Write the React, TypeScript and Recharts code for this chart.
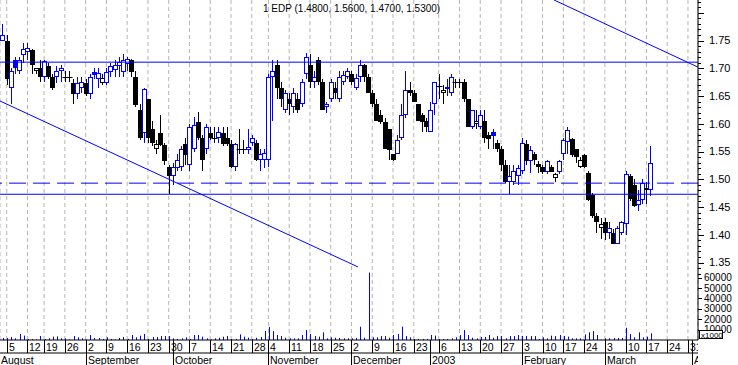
import React from 'react';
import { ComposedChart, Bar, XAxis, YAxis, ReferenceLine, CartesianGrid } from 'recharts';

const title = '1 EDP (1.4800, 1.5600, 1.4700, 1.5300)';

// trading days: index 0 = Fri 2 Aug 2002 ... index 156 = Tue 18 Mar 2003
const opens = [
  1.75, 1.75, 1.665, 1.715, 1.695, 1.724, 1.73, 1.733, 1.695, 1.70,
  1.684, 1.704, 1.685, 1.684, 1.695, 1.685, 1.685, 1.674, 1.654, 1.664,
  1.674, 1.654, 1.694, 1.68, 1.674, 1.674, 1.694, 1.696, 1.704, 1.694,
  1.708, 1.714, 1.684, 1.624, 1.584, 1.644, 1.59, 1.555, 1.583, 1.562,
  1.523, 1.505, 1.52, 1.523, 1.563, 1.525, 1.555, 1.604, 1.575, 1.554,
  1.584, 1.575, 1.575, 1.584, 1.574, 1.563, 1.523, 1.555, 1.555, 1.553,
  1.565, 1.565, 1.535, 1.535, 1.535, 1.685, 1.705, 1.665, 1.625, 1.645,
  1.63, 1.645, 1.635, 1.69, 1.705, 1.675, 1.715, 1.675, 1.63, 1.645,
  1.665, 1.645, 1.675, 1.685, 1.69, 1.665, 1.685, 1.705, 1.685, 1.655,
  1.635, 1.615, 1.603, 1.59, 1.545, 1.545, 1.575, 1.615, 1.66, 1.655,
  1.635, 1.615, 1.605, 1.585, 1.635, 1.668, 1.655, 1.662, 1.655, 1.675,
  1.675, 1.675, 1.645, 1.595, 1.60, 1.595, 1.605, 1.58, 1.585, 1.565,
  1.555, 1.525, 1.495, 1.495, 1.505, 1.515, 1.563, 1.533, 1.545, 1.528,
  1.523, 1.513, 1.523, 1.503, 1.513, 1.545, 1.568, 1.572, 1.555, 1.523,
  1.543, 1.512, 1.472, 1.433, 1.413, 1.423, 1.403, 1.403, 1.384, 1.403,
  1.42, 1.505, 1.49, 1.453, 1.463, 1.485, 1.48,
];
const highs = [
  1.78, 1.76, 1.70, 1.72, 1.72, 1.745, 1.745, 1.735, 1.70, 1.715,
  1.715, 1.71, 1.69, 1.704, 1.705, 1.695, 1.695, 1.68, 1.685, 1.685,
  1.68, 1.69, 1.70, 1.70, 1.69, 1.70, 1.71, 1.715, 1.72, 1.725,
  1.72, 1.716, 1.695, 1.635, 1.665, 1.645, 1.605, 1.57, 1.615, 1.565,
  1.525, 1.53, 1.545, 1.56, 1.574, 1.60, 1.613, 1.622, 1.58, 1.60,
  1.595, 1.595, 1.595, 1.595, 1.595, 1.57, 1.565, 1.59, 1.57, 1.59,
  1.58, 1.57, 1.554, 1.554, 1.69, 1.714, 1.715, 1.675, 1.66, 1.655,
  1.665, 1.655, 1.68, 1.728, 1.725, 1.695, 1.72, 1.68, 1.64, 1.68,
  1.675, 1.695, 1.695, 1.70, 1.695, 1.69, 1.715, 1.708, 1.69, 1.66,
  1.645, 1.625, 1.61, 1.59, 1.545, 1.58, 1.635, 1.695, 1.675, 1.66,
  1.635, 1.62, 1.61, 1.64, 1.675, 1.69, 1.67, 1.68, 1.69, 1.68,
  1.68, 1.68, 1.645, 1.625, 1.625, 1.625, 1.625, 1.585, 1.59, 1.57,
  1.56, 1.535, 1.525, 1.525, 1.525, 1.575, 1.57, 1.56, 1.55, 1.533,
  1.525, 1.535, 1.525, 1.512, 1.535, 1.575, 1.595, 1.575, 1.555, 1.54,
  1.545, 1.515, 1.475, 1.44, 1.43, 1.43, 1.423, 1.41, 1.415, 1.425,
  1.515, 1.51, 1.50, 1.48, 1.50, 1.495, 1.56,
];
const lows = [
  1.75, 1.67, 1.635, 1.69, 1.69, 1.71, 1.715, 1.69, 1.69, 1.675,
  1.675, 1.68, 1.66, 1.674, 1.675, 1.675, 1.675, 1.635, 1.645, 1.655,
  1.65, 1.645, 1.68, 1.665, 1.67, 1.67, 1.685, 1.685, 1.685, 1.685,
  1.695, 1.685, 1.63, 1.57, 1.565, 1.565, 1.56, 1.545, 1.56, 1.525,
  1.473, 1.49, 1.514, 1.514, 1.526, 1.514, 1.55, 1.57, 1.514, 1.545,
  1.57, 1.565, 1.565, 1.56, 1.56, 1.52, 1.514, 1.545, 1.545, 1.545,
  1.56, 1.533, 1.514, 1.52, 1.523, 1.605, 1.645, 1.63, 1.62, 1.615,
  1.62, 1.62, 1.63, 1.68, 1.665, 1.665, 1.67, 1.625, 1.62, 1.64,
  1.645, 1.64, 1.67, 1.68, 1.67, 1.66, 1.675, 1.675, 1.655, 1.63,
  1.605, 1.60, 1.555, 1.535, 1.533, 1.545, 1.57, 1.61, 1.65, 1.64,
  1.605, 1.585, 1.585, 1.585, 1.615, 1.645, 1.635, 1.65, 1.65, 1.665,
  1.665, 1.64, 1.595, 1.59, 1.59, 1.59, 1.565, 1.555, 1.555, 1.55,
  1.515, 1.493, 1.473, 1.49, 1.49, 1.51, 1.525, 1.512, 1.525, 1.512,
  1.51, 1.51, 1.513, 1.495, 1.51, 1.535, 1.545, 1.54, 1.53, 1.52,
  1.52, 1.46, 1.43, 1.403, 1.393, 1.39, 1.393, 1.383, 1.383, 1.40,
  1.40, 1.46, 1.45, 1.443, 1.455, 1.455, 1.47,
];
const closes = [
  1.76, 1.68, 1.695, 1.70, 1.715, 1.734, 1.736, 1.705, 1.70, 1.684,
  1.713, 1.685, 1.665, 1.695, 1.70, 1.685, 1.685, 1.654, 1.674, 1.676,
  1.654, 1.684, 1.688, 1.692, 1.683, 1.694, 1.704, 1.706, 1.712, 1.714,
  1.716, 1.694, 1.634, 1.574, 1.662, 1.574, 1.565, 1.563, 1.562, 1.533,
  1.505, 1.523, 1.535, 1.554, 1.544, 1.595, 1.597, 1.575, 1.535, 1.594,
  1.575, 1.575, 1.585, 1.564, 1.563, 1.523, 1.563, 1.555, 1.555, 1.558,
  1.575, 1.535, 1.545, 1.548, 1.685, 1.695, 1.665, 1.645, 1.655, 1.635,
  1.655, 1.625, 1.675, 1.72, 1.675, 1.685, 1.675, 1.625, 1.635, 1.675,
  1.655, 1.685, 1.688, 1.695, 1.675, 1.683, 1.705, 1.685, 1.655, 1.635,
  1.605, 1.603, 1.555, 1.553, 1.535, 1.57, 1.615, 1.66, 1.655, 1.64,
  1.605, 1.603, 1.595, 1.625, 1.675, 1.668, 1.66, 1.666, 1.685, 1.675,
  1.675, 1.645, 1.595, 1.625, 1.605, 1.615, 1.575, 1.572, 1.578, 1.555,
  1.525, 1.495, 1.505, 1.515, 1.52, 1.565, 1.533, 1.553, 1.535, 1.522,
  1.513, 1.533, 1.513, 1.51, 1.533, 1.57, 1.588, 1.543, 1.54, 1.535,
  1.523, 1.463, 1.433, 1.423, 1.42, 1.403, 1.413, 1.384, 1.413, 1.423,
  1.51, 1.465, 1.452, 1.463, 1.493, 1.48, 1.53,
];
const priorClose = 1.74;
const volumes = [
  1900, 1900, 2900, 1600, 5800, 4200, 1000, 1000, 500, 3800,
  1000, 1600, 3200, 3500, 1600, 1600, 500, 3800, 2600, 1600,
  500, 4800, 1900, 1900, 1000, 2600, 1000, 500, 1900, 2900,
  1000, 4800, 2600, 4200, 5800, 1000, 2900, 2900, 3800, 3800,
  3800, 1600, 1000, 1600, 2600, 1000, 4800, 4800, 3200, 1600,
  500, 1600, 2200, 3200, 3800, 1000, 1000, 5400, 3200, 2200,
  1000, 2200, 2900, 8600, 12500, 8600, 4800, 3800, 2200, 1600,
  1600, 1600, 4800, 9600, 5800, 3800, 3200, 7400, 1600, 2600,
  2200, 1900, 1600, 1600, 1600, 1900, 12800, 2200, 64900, 2600,
  2600, 3800, 3800, 2200, 4800, 5800, 12800, 3800, 2600, 1000,
  1000, 1000, 1000, 4800, 4200, 1000, 1000, 1000, 1600, 2600,
  4800, 9600, 4800, 2200, 1600, 2900, 2900, 4800, 2200, 3800,
  3800, 1600, 3800, 3800, 4800, 3800, 3800, 3800, 3800, 1000,
  2600, 1600, 4200, 3800, 4800, 3800, 3200, 1600, 1600, 1600,
  5400, 7400, 8600, 4800, 300, 1600, 1600, 1900, 1900, 1900,
  11800, 5800, 2600, 7400, 2600, 3200, 6400,
];

const dayTicks = [1, 6, 10, 15, 20, 25, 30, 35, 40, 45, 50, 55, 60, 64, 69, 74, 79, 84, 89, 94, 99, 105, 110, 115, 120, 125, 130, 135, 140, 145, 150, 155, 160, 165];
const dayLabels = ['5', '12', '19', '26', '2', '9', '16', '23', '30', '7', '14', '21', '28', '4', '11', '18', '25', '2', '9', '16', '23', '6', '13', '20', '27', '3', '10', '17', '24', '3', '10', '17', '24', '31'];
const monthTicks = [-0.614, 20, 41, 64, 84, 103, 125, 145, 166];
const monthLabels = ['August', 'September', 'October', 'November', 'December', '2003', 'February', 'March', 'April'];

const priceTicks: number[] = [];
for (let k = 133; k <= 182; k++) priceTicks.push(k / 100);
const priceLabelMin = 1.35;
const priceLabelMax = 1.75;
const volumeTicks = [10000, 20000, 30000, 40000, 50000, 60000];
const volumeUnitLabel = 'x1000';

const resistanceLevel = 1.711;
const dashedLevel = 1.493;
const supportLevel = 1.473;
const lowerTrend = [{ x: -0.614, y: 1.641 }, { x: 85.57, y: 1.342 }];
const upperTrend = [{ x: 132.76, y: 1.823 }, { x: 167.42, y: 1.702 }];

const X_DOMAIN: [number, number] = [-0.614, 167.42];
const PRICE_DOMAIN: [number, number] = [1.2104, 1.823];
const VOLUME_DOMAIN: [number, number] = [0, 327000];

const BLUE = '#0000ff';
const BLACK = '#000000';
const FONT = '"Liberation Sans", Arial, sans-serif';

const data = opens.map((o, i) => ({
  i,
  range: [lows[i], highs[i]],
  o,
  h: highs[i],
  l: lows[i],
  c: closes[i],
  pc: i === 0 ? priorClose : closes[i - 1],
  v: volumes[i],
}));

function Candle(props: any) {
  const { x, y, width, height, payload } = props;
  if (x == null || !payload) return null;
  const top = Math.min(y, y + height);
  const ht = Math.abs(height);
  const { o, h, l, c, pc } = payload;
  const span = h - l;
  const py = (v: number) => (span > 0 ? top + ((h - v) / span) * ht : top);
  const cx = Math.round(x + width / 2) + 0.5;
  const color = c > pc ? BLUE : BLACK;
  const yo = py(o);
  const yc = py(c);
  const bTop = Math.min(yo, yc);
  const bBot = Math.max(yo, yc);
  let body;
  if (bBot - bTop < 1.2) {
    const yy = Math.round(yo) + 0.5;
    body = <line x1={cx - 3} x2={cx + 3} y1={yy} y2={yy} stroke={color} strokeWidth={1} />;
  } else if (c > o) {
    const t = Math.round(bTop) + 0.5;
    const b = Math.round(bBot) - 0.5;
    body = <rect x={cx - 2} y={t} width={4} height={Math.max(1, b - t)} fill="#ffffff" stroke={color} strokeWidth={1} />;
  } else {
    const t = Math.round(bTop);
    const b = Math.round(bBot);
    body = <rect x={cx - 2.5} y={t} width={5} height={Math.max(1, b - t)} fill={color} />;
  }
  return (
    <g>
      <line x1={cx} x2={cx} y1={Math.round(top)} y2={Math.round(top + ht)} stroke={color} strokeWidth={1} />
      {body}
    </g>
  );
}

function VolumeBar(props: any) {
  const { x, y, width, height } = props;
  if (x == null) return null;
  const cx = Math.round(x + width / 2);
  const t = Math.min(y, y + height);
  return <rect x={cx} y={t} width={1} height={Math.abs(height)} fill={BLUE} />;
}

function PriceTick(props: any) {
  const { x, y, payload } = props;
  const v = payload.value as number;
  const major = Math.abs(v * 20 - Math.round(v * 20)) < 1e-6;
  const yy = Math.round(y) + 0.5;
  const labelled = major && v >= priceLabelMin - 1e-9 && v <= priceLabelMax + 1e-9;
  return (
    <g>
      <line x1={x} x2={x + (major ? 6 : 3)} y1={yy} y2={yy} stroke={BLACK} />
      {labelled && (
        <text x={x + 11} y={y} dy="0.36em" fontSize={11} fontFamily={FONT} fill={BLACK}>
          {v.toFixed(2)}
        </text>
      )}
    </g>
  );
}

// label drawn at the right end of an invisible reference line on the volume scale
function VolumeLabel(props: any) {
  const { viewBox, value } = props;
  if (!viewBox) return null;
  const x = viewBox.x + viewBox.width;
  const y = viewBox.y;
  const yy = Math.round(y) + 0.5;
  const isFirst = value === volumeTicks[0];
  return (
    <g>
      <line x1={x} x2={x + 4} y1={yy} y2={yy} stroke={BLACK} />
      <text x={x + 6} y={y} dy="0.35em" fontSize={10} fontFamily={FONT} fill={BLACK}>
        {String(value)}
      </text>
      {isFirst && (
        <g>
          <rect x={x + 1.5} y={yy} width={23} height={8} fill="#ffffff" stroke={BLACK} />
          <text x={x + 3} y={yy + 7} fontSize={8} fontFamily={FONT} fill={BLACK}>
            {volumeUnitLabel}
          </text>
        </g>
      )}
    </g>
  );
}

function DayTick(props: any) {
  const { x, y, payload } = props;
  const idx = dayTicks.indexOf(payload.value);
  const xx = Math.round(x) + 0.5;
  return (
    <g clipPath="url(#axisClip)">
      <line x1={xx} x2={xx} y1={y} y2={y + 13} stroke={BLACK} />
      <text x={xx + 1.5} y={y + 11} fontSize={10.5} fontFamily={FONT} fill={BLACK}>
        {idx >= 0 ? dayLabels[idx] : ''}
      </text>
    </g>
  );
}

function MonthTick(props: any) {
  const { x, y, payload, index } = props;
  const idx = monthTicks.indexOf(payload.value);
  const xx = Math.round(x) + 0.5;
  return (
    <g clipPath="url(#axisClip)">
      <defs>
        <clipPath id="axisClip">
          <rect x={0} y={0} width={698} height={365} />
        </clipPath>
      </defs>
      {index > 0 && <line x1={xx} x2={xx} y1={y - 13} y2={y + 12} stroke={BLACK} />}
      <text x={index > 0 ? xx + 1.5 : 1} y={y + 11} fontSize={10.5} fontFamily={FONT} fill={BLACK}>
        {idx >= 0 ? monthLabels[idx] : ''}
      </text>
    </g>
  );
}

export default function App() {
  return (
    <div style={{ position: 'absolute', left: 0, top: 0, width: 738, height: 365, background: '#fff' }}>
      <ComposedChart
        width={738}
        height={365}
        data={data}
        margin={{ top: 0, right: 0, bottom: 0, left: 0 }}
      >
        <CartesianGrid xAxisId="day" yAxisId="price" horizontal={false} stroke="#b4b4b4" strokeDasharray="4 3" />
        <XAxis
          xAxisId="day"
          dataKey="i"
          type="number"
          domain={X_DOMAIN}
          allowDataOverflow
          ticks={dayTicks}
          interval={0}
          height={13}
          tickSize={0}
          tickMargin={0}
          tickLine={false}
          axisLine={{ stroke: BLACK }}
          tick={<DayTick />}
        />
        <XAxis
          xAxisId="month"
          dataKey="i"
          type="number"
          domain={X_DOMAIN}
          allowDataOverflow
          ticks={monthTicks}
          interval={0}
          height={12}
          tickSize={0}
          tickMargin={0}
          tickLine={false}
          axisLine={{ stroke: BLACK }}
          tick={<MonthTick />}
        />
        <XAxis xAxisId="vol" dataKey="i" type="number" domain={X_DOMAIN} allowDataOverflow hide />
        <YAxis
          yAxisId="price"
          orientation="right"
          type="number"
          domain={PRICE_DOMAIN}
          allowDataOverflow
          ticks={priceTicks}
          interval={0}
          width={40}
          tickSize={0}
          tickMargin={0}
          tickLine={false}
          axisLine={{ stroke: BLACK }}
          tick={<PriceTick />}
        />
        <YAxis yAxisId="volume" orientation="right" type="number" domain={VOLUME_DOMAIN} allowDataOverflow hide />
        <Bar xAxisId="vol" yAxisId="volume" dataKey="v" barSize={1} shape={<VolumeBar />} isAnimationActive={false} />
        <Bar xAxisId="day" yAxisId="price" dataKey="range" barSize={4} shape={<Candle />} isAnimationActive={false} />
        <ReferenceLine xAxisId="day" yAxisId="price" y={resistanceLevel} stroke={BLUE} strokeWidth={1} />
        <ReferenceLine xAxisId="day" yAxisId="price" y={supportLevel} stroke={BLUE} strokeWidth={1} />
        <ReferenceLine xAxisId="day" yAxisId="price" y={dashedLevel} stroke={BLUE} strokeWidth={1} strokeDasharray="17 7" />
        <ReferenceLine xAxisId="day" yAxisId="price" segment={lowerTrend} stroke={BLUE} strokeWidth={1} ifOverflow="visible" />
        <ReferenceLine xAxisId="day" yAxisId="price" segment={upperTrend} stroke={BLUE} strokeWidth={1} ifOverflow="visible" />
        {volumeTicks.map((v) => (
          <ReferenceLine
            key={v}
            xAxisId="vol"
            yAxisId="volume"
            y={v}
            stroke="none"
            ifOverflow="visible"
            label={<VolumeLabel value={v} />}
          />
        ))}
      </ComposedChart>
      <div
        style={{
          position: 'absolute',
          left: 263,
          top: 3,
          fontFamily: FONT,
          fontSize: 10,
          color: BLACK,
          whiteSpace: 'nowrap',
          lineHeight: '12px',
        }}
      >
        {title}
      </div>
    </div>
  );
}
